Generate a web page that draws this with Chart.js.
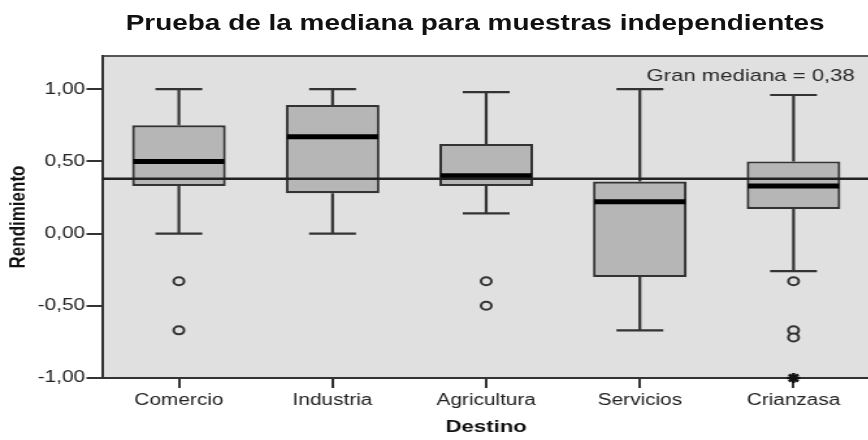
<!DOCTYPE html>
<html>
<head>
<meta charset="utf-8">
<title>Prueba de la mediana</title>
<script src="https://cdn.jsdelivr.net/npm/chart.js@4.4.0/dist/chart.umd.min.js"></script>
<style>
  body { margin: 0; overflow: hidden; background: #fff; }
  /* la figura original esta estirada en horizontal */
  #lienzo { position: relative; width: 677px; height: 440px; transform: scaleX(1.3); transform-origin: 0 0; }
  #grafico { display: block; }
  #titulo { position: absolute; left: 0; width: 731px; top: 13px; text-align: center;
            font: bold 21.5px "Liberation Sans", Arial, sans-serif; color: #111; line-height: 1; }
</style>
</head>
<body>
<div id="lienzo">
  <canvas id="grafico" width="677" height="440"></canvas>
  <div id="titulo">Prueba de la mediana para muestras independientes</div>
</div>
<script>
// datos
const destinos = ["Comercio", "Industria", "Agricultura", "Servicios", "Crianzasa"];
const bigoteMin = [0.00, 0.00, 0.14, -0.67, -0.26];
const cuartil1  = [0.33, 0.28, 0.33, -0.30, 0.17];
const mediana   = [0.50, 0.67, 0.40, 0.22, 0.33];
const cuartil3  = [0.75, 0.89, 0.62, 0.36, 0.50];
const bigoteMax = [1.00, 1.00, 0.98, 1.00, 0.96];
const atipicos  = [[-0.33, -0.67], [], [-0.33, -0.50], [], [-0.33, -0.67, -0.72]];
const extremos  = [[], [], [], [], [-1.00]];
const granMediana = 0.38;
const yTicks = [-1, -0.5, 0, 0.5, 1];

const fuente = "'Liberation Sans', Arial, sans-serif";
const colorLinea = "#333";
const fondo = "#e0e0e0";

function puntos(lista){
  let salida = [];
  lista.forEach(function(vals, i){
    vals.forEach(function(v){ salida.push({x: destinos[i], y: v}); });
  });
  return salida;
}

// fondo, bigotes, medianas y linea de la gran mediana
const cajasPlugin = {
  id: "cajas",
  beforeDraw(chart){
    const ctx = chart.ctx, a = chart.chartArea;
    ctx.save();
    ctx.fillStyle = fondo;
    ctx.fillRect(a.left, a.top, a.right - a.left, a.bottom - a.top);
    ctx.strokeStyle = "#555";
    ctx.lineWidth = 2;
    ctx.beginPath();
    ctx.moveTo(a.left, a.top);
    ctx.lineTo(a.right + 5, a.top);
    ctx.stroke();
    ctx.restore();
  },
  afterDatasetsDraw(chart){
    const ctx = chart.ctx, a = chart.chartArea;
    const x = chart.scales.x, y = chart.scales.y;
    const barras = chart.getDatasetMeta(0).data;
    ctx.save();
    destinos.forEach(function(d, i){
      const cx = x.getPixelForValue(i);
      const w = barras[i].width;
      const yMax = y.getPixelForValue(bigoteMax[i]);
      const yMin = y.getPixelForValue(bigoteMin[i]);
      ctx.strokeStyle = colorLinea;
      ctx.lineWidth = 2.2;
      ctx.beginPath();
      ctx.moveTo(cx, y.getPixelForValue(cuartil3[i])); ctx.lineTo(cx, yMax);
      ctx.moveTo(cx, y.getPixelForValue(cuartil1[i])); ctx.lineTo(cx, yMin);
      ctx.moveTo(cx - w / 4, yMax); ctx.lineTo(cx + w / 4, yMax);
      ctx.moveTo(cx - w / 4, yMin); ctx.lineTo(cx + w / 4, yMin);
      ctx.stroke();

      const ym = y.getPixelForValue(mediana[i]);
      ctx.strokeStyle = "#000";
      ctx.lineWidth = 5;
      ctx.beginPath();
      ctx.moveTo(cx - w / 2 + 1, ym);
      ctx.lineTo(cx + w / 2 - 1, ym);
      ctx.stroke();
    });

    const yg = y.getPixelForValue(granMediana);
    ctx.strokeStyle = "#222";
    ctx.lineWidth = 2.5;
    ctx.beginPath();
    ctx.moveTo(a.left, yg);
    ctx.lineTo(a.right + 5, yg);
    ctx.stroke();

    ctx.fillStyle = "#2a2a2a";
    ctx.font = "17px " + fuente;
    ctx.textAlign = "right";
    ctx.textBaseline = "alphabetic";
    ctx.fillText("Gran mediana = " + granMediana.toFixed(2).replace(".", ","), a.right - 12, a.top + 25);
    ctx.restore();
  }
};

const grafico = new Chart("grafico", {
  type: "bar",
  data: {
    labels: destinos,
    datasets: [
      {
        label: "Caja",
        data: cuartil1.map(function(q, i){ return [q, cuartil3[i]]; }),
        backgroundColor: "#b6b6b6",
        borderColor: colorLinea,
        borderWidth: 2.2,
        borderSkipped: false,
        barPercentage: 0.61,
        categoryPercentage: 1.0
      },
      {
        type: "scatter",
        label: "Atipicos",
        data: puntos(atipicos),
        pointStyle: "circle",
        pointRadius: 4,
        borderWidth: 2,
        backgroundColor: fondo,
        borderColor: colorLinea,
        clip: false
      },
      {
        type: "scatter",
        label: "Extremos",
        data: puntos(extremos),
        pointStyle: "star",
        pointRadius: 5,
        borderWidth: 2.5,
        backgroundColor: "#111",
        borderColor: "#111",
        clip: false
      }
    ]
  },
  options: {
    responsive: false,
    animation: false,
    layout: { padding: { top: 56, right: 2, left: 0, bottom: 0 } },
    plugins: {
      legend: { display: false },
      tooltip: { enabled: false }
    },
    scales: {
      x: {
        type: "category",
        offset: true,
        grid: { offset: false, drawOnChartArea: false, drawTicks: true, tickLength: 10, color: colorLinea, lineWidth: 2 },
        border: { display: true, color: colorLinea, width: 2 },
        ticks: { color: "#222", font: { family: fuente, size: 16 }, padding: 3, maxRotation: 0 },
        title: { display: true, text: "Destino", color: "#111", font: { family: fuente, size: 17, weight: "bold" }, padding: { top: 0, bottom: 2 } },
        afterFit: function(scale){ scale.height = 62; }
      },
      y: {
        min: -1,
        max: 1.23,
        grid: { drawOnChartArea: false, drawTicks: true, tickLength: 12, color: colorLinea, lineWidth: 2 },
        border: { display: true, color: colorLinea, width: 2 },
        afterBuildTicks: function(scale){ scale.ticks = yTicks.map(function(v){ return {value: v}; }); },
        ticks: {
          color: "#222",
          font: { family: fuente, size: 16 },
          padding: 1,
          callback: function(v){ return Number(v).toFixed(2).replace(".", ","); }
        },
        title: { display: true, text: "Rendimiento", color: "#111", font: { family: fuente, size: 17, weight: "bold" }, padding: { top: 4, bottom: 0 } },
        afterFit: function(scale){ scale.width = 78.5; }
      }
    }
  },
  plugins: [cajasPlugin]
});
</script>
</body>
</html>
